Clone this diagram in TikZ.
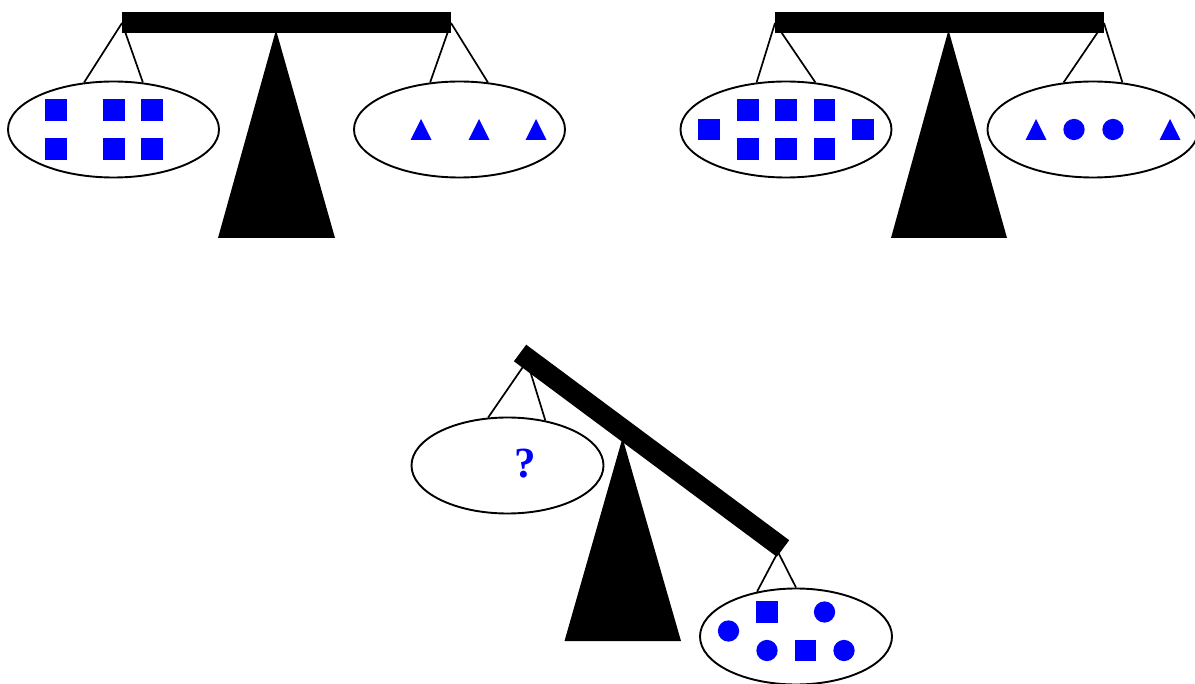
\documentclass[tikz,border=0pt]{standalone}
\usepackage{fontspec}
\setmainfont{Liberation Serif}
\usetikzlibrary{shapes.geometric}
\begin{document}
\begin{tikzpicture}[x=1pt,y=-1pt,
  pan/.style={draw=black, line width=1.9pt, ellipse, inner sep=0pt, minimum width=211pt, minimum height=96pt},
  smallpan/.style={pan, minimum width=192pt},
  hang/.style={line width=1.7pt, black},
  beamfill/.style={fill=black},
  sq/.style={fill=blue, rectangle, inner sep=0pt, minimum size=21.3pt},
  dot/.style={fill=blue, circle, inner sep=0pt, minimum size=21.3pt},
  tri/.pic={\fill[blue] (-10.5,10.5) -- (0,-10.5) -- (10.5,10.5) -- cycle;}
]
\clip (0,0) rectangle (1195,684);

% ---------- balance 1 ----------
\node[pan] (L1) at (113.5,129.5) {};
\node[pan] (R1) at (459.5,129.5) {};
\coordinate (b1L) at (122,23);
\coordinate (b1R) at (451,23);
\draw[hang] (b1L) -- (L1.122);
\draw[hang] (b1L) -- (L1.58);
\draw[hang] (b1R) -- (R1.122);
\draw[hang] (b1R) -- (R1.59);
\fill[beamfill] (276,30) -- (218,238) -- (335,238) -- cycle;
\fill[beamfill] (122,12.5) rectangle (451,33);
\foreach \x/\y [count=\i] in {56/110,114/110,152/110,56/149,114/149,152/149}
  \node[sq] (a\i) at (\x,\y) {};
\foreach \x in {421,479,536}
  \pic at (\x,129.5) {tri};

% ---------- balance 2 ----------
\node[pan] (L2) at (786,129.5) {};
\node[pan] (R2) at (1093,129.5) {};
\coordinate (b2L) at (775,23);
\coordinate (b2R) at (1104,23);
\draw[hang] (b2L) -- (L2.122);
\draw[hang] (b2L) -- (L2.58);
\draw[hang] (b2R) -- (R2.122);
\draw[hang] (b2R) -- (R2.58);
\fill[beamfill] (948.5,30) -- (891,238) -- (1007,238) -- cycle;
\fill[beamfill] (775,12.5) rectangle (1104,33);
\foreach \x/\y [count=\i] in {709/129.5,748/110,786/110,824.5/110,748/149,786/149,824.5/149,863/129.5}
  \node[sq] (c\i) at (\x,\y) {};
\pic at (1036,129.5) {tri};
\node[dot] (d1) at (1074,129.5) {};
\node[dot] (d2) at (1113,129.5) {};
\pic at (1170,129.5) {tri};

% ---------- balance 3 ----------
\node[smallpan] (L3) at (507.5,465.5) {};
\node[smallpan] (R3) at (796,636.5) {};
\coordinate (b3L) at (527,361);
\coordinate (b3R) at (778,552);
\draw[hang] (b3L) -- (L3.112);
\draw[hang] (b3L) -- (L3.50);
\draw[hang] (b3R) -- (R3.131);
\draw[hang] (b3R) -- (R3.90);
\fill[beamfill] (622.5,438) -- (564.5,641) -- (681,641) -- cycle;
\fill[beamfill] (526.2,344.7) -- (513.9,361.3) -- (776.9,556.8) -- (789.2,540.2) -- cycle;
\node[text=blue, font=\bfseries\fontsize{43}{43}\selectfont, inner sep=0pt] (q) at (525,463.5) {?};
\node[dot] (e1) at (728.5,631) {};
\node[sq]  (e2) at (767,612) {};
\node[dot] (e3) at (824.5,612) {};
\node[dot] (e4) at (767,650.5) {};
\node[sq]  (e5) at (805.5,650.5) {};
\node[dot] (e6) at (844,650.5) {};
\end{tikzpicture}
\end{document}
